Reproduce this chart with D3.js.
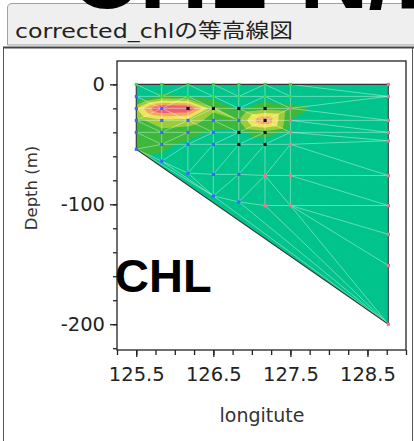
<!DOCTYPE html>
<html><head><meta charset="utf-8">
<script src="https://cdn.jsdelivr.net/npm/d3@7"></script>
<style>body{margin:0;background:#fff;overflow:hidden}svg{display:block}</style>
</head><body><svg id="c" width="414" height="441"></svg>
<script>
// ---- data ----
const stationLon = [
  125.5,125.5,125.5,125.5,125.5,125.5,
  125.83,125.83,125.83,125.83,125.83,125.83,125.83,
  126.17,126.17,126.17,126.17,126.17,126.17,126.17,
  126.5,126.5,126.5,126.5,126.5,126.5,126.5,126.5,
  126.83,126.83,126.83,126.83,126.83,126.83,126.83,126.83,
  127.17,127.17,127.17,127.17,127.17,127.17,127.17,127.17,
  127.5,127.5,127.5,127.5,127.5,127.5,127.5,127.5,
  128.77,128.77,128.77,128.77,128.77,128.77,128.77,128.77,128.77,128.77
];
const stationDepth = [
  0,-10,-20,-30,-40,-54,
  0,-10,-20,-30,-40,-50,-64,
  0,-10,-20,-30,-40,-50,-74,
  0,-10,-20,-30,-40,-50,-75,-93,
  0,-10,-20,-30,-40,-50,-75,-98,
  0,-10,-20,-30,-40,-50,-76,-101,
  0,-10,-20,-30,-40,-50,-76,-101,
  0,-10,-30,-40,-47,-76,-101,-125,-151,-200
];
const chlValue = [
  0.6,0.2,2.0,1.3,1.2,1.1,
  0.6,1.1,3.7,1.9,1.3,1.1,0.9,
  0.6,1.0,3.6,1.8,1.2,0.9,0.5,
  0.6,0.8,1.6,1.3,0.9,0.7,0.5,0.5,
  0.6,0.8,0.9,1.5,0.9,0.6,0.5,0.5,
  0.6,0.8,1.3,3.1,1.3,0.7,0.5,0.5,
  0.6,0.8,1.1,1.0,0.8,0.6,0.5,0.5,
  0.5,0.5,0.5,0.5,0.5,0.5,0.5,0.5,0.5,0.5
];
const stationGroup = [
  "g","b","b","b","b","b",
  "g","g","b","b","b","b","b",
  "g","g","k","b","b","b","b",
  "g","g","k","b","b","b","b","b",
  "g","g","k","b","k","k","b","b",
  "g","g","k","k","k","k","p","p",
  "g","g","p","p","p","p","p","p",
  "p","p","p","p","p","p","p","p","p","p"
];
const bandThresholds = [0.3, 1.0, 1.5, 2.0, 2.5, 3.0];
const bandColors = ["#00c48c","#3db83c","#9ccc3c","#eee45c","#f3a862","#ee5f72"];
const lowColor = "#22d5cf";
const groupColors = {g:"#33e033", b:"#3a66ff", k:"#111111", p:"#ff6f8c"};
const xMajorTicks = [125.5,126.5,127.5,128.5];
const xMinorTicks = d3.range(125.25, 129.001, 0.25);
const yMajorTicks = [-200,-100,0];
const yMinorTicks = d3.range(-220, 1, 20);

// ---- layout ----
const svg = d3.select("#c");
const frame = {l:117, t:61, r:406, b:350};
const x = d3.scaleLinear().domain([125.25, 129.0]).range([frame.l, frame.r]);
const y = d3.scaleLinear().domain([-221.5, 19.5]).range([frame.b, frame.t]);

// tab
svg.append("path")
  .attr("d","M7.5,45 L7.5,8 Q7.5,3.5 12,3.5 L416,3.5 L416,45 Z")
  .attr("fill","#efefef").attr("stroke","#a0a0a0").attr("stroke-width",1);
svg.append("text").attr("x",15).attr("y",38)
  .attr("font-family","DejaVu Sans, 'Noto Sans CJK JP', sans-serif")
  .attr("font-size",20).attr("fill","#222")
  .attr("textLength",278).attr("lengthAdjust","spacingAndGlyphs")
  .text("corrected_chlの等高線図");

// big cropped header text (drawn over the tab)
svg.append("text").attr("x",70).attr("y",8)
  .attr("font-family","Liberation Sans, Arial, sans-serif").attr("font-weight","bold")
  .attr("font-size",96).attr("fill","#000").text("CHL-N/P");

// panel
svg.append("rect").attr("x",3.5).attr("y",47.5).attr("width",409).attr("height",420)
  .attr("fill","#fff").attr("stroke","#555").attr("stroke-width",1);
svg.append("line").attr("x1",3).attr("x2",414).attr("y1",47.5).attr("y2",47.5)
  .attr("stroke","#444").attr("stroke-width",2);

// ---- contour field ----
const pts = stationLon.map((l,i)=>[x(l), y(stationDepth[i])]);
const del = d3.Delaunay.from(pts);
const gx0 = Math.floor(d3.min(pts,p=>p[0]))-2, gy0 = Math.floor(d3.min(pts,p=>p[1]))-2;
const gw = Math.ceil(d3.max(pts,p=>p[0]))-gx0+3, gh = Math.ceil(d3.max(pts,p=>p[1]))-gy0+3;
const grid = new Float64Array(gw*gh).fill(0.6);
const T = del.triangles;
for (let t=0;t<T.length;t+=3){
  const A=pts[T[t]],B=pts[T[t+1]],C=pts[T[t+2]];
  const va=chlValue[T[t]],vb=chlValue[T[t+1]],vc=chlValue[T[t+2]];
  const det=(B[1]-C[1])*(A[0]-C[0])+(C[0]-B[0])*(A[1]-C[1]);
  if (Math.abs(det)<1e-9) continue;
  const minX=Math.max(0,Math.floor(Math.min(A[0],B[0],C[0])-gx0-1)), maxX=Math.min(gw-1,Math.ceil(Math.max(A[0],B[0],C[0])-gx0+1));
  const minY=Math.max(0,Math.floor(Math.min(A[1],B[1],C[1])-gy0-1)), maxY=Math.min(gh-1,Math.ceil(Math.max(A[1],B[1],C[1])-gy0+1));
  for (let j=minY;j<=maxY;j++) for (let i=minX;i<=maxX;i++){
    const px=gx0+i+0.5, py=gy0+j+0.5;
    const wa=((B[1]-C[1])*(px-C[0])+(C[0]-B[0])*(py-C[1]))/det;
    const wb=((C[1]-A[1])*(px-C[0])+(A[0]-C[0])*(py-C[1]))/det;
    const wc=1-wa-wb;
    if (wa>=-1e-6 && wb>=-1e-6 && wc>=-1e-6) grid[j*gw+i]=wa*va+wb*vb+wc*vc;
  }
}
const hull = del.hullPolygon();
svg.append("clipPath").attr("id","hullclip").append("path").attr("d","M"+hull.join("L")+"Z");
const field = svg.append("g").attr("clip-path","url(#hullclip)");
field.append("path").attr("d","M"+hull.join("L")+"Z").attr("fill",lowColor);
const contours = d3.contours().size([gw,gh]).thresholds(bandThresholds)(Array.from(grid));
const cg = field.append("g").attr("transform",`translate(${gx0},${gy0})`);
cg.selectAll("path").data(contours).join("path")
  .attr("d", d3.geoPath())
  .attr("fill",(d,i)=>bandColors[i]);
// mesh
field.append("path").attr("d",del.render()).attr("fill","none")
  .attr("stroke","rgba(235,255,240,0.42)").attr("stroke-width",1);
// hull outline
svg.append("path").attr("d","M"+hull.join("L")+"Z").attr("fill","none")
  .attr("stroke","#333").attr("stroke-width",1.1);
// stations
svg.append("g").selectAll("rect").data(pts).join("rect")
  .attr("x",d=>d[0]-1.5).attr("y",d=>d[1]-1.5).attr("width",3.2).attr("height",3.2)
  .attr("fill",(d,i)=>groupColors[stationGroup[i]]);

// ---- frame & axes ----
svg.append("rect").attr("x",frame.l).attr("y",frame.t).attr("width",frame.r-frame.l).attr("height",frame.b-frame.t)
  .attr("fill","none").attr("stroke","#222").attr("stroke-width",1.3);
const fontAx = "DejaVu Sans, Verdana, sans-serif";
function styleAxis(g){ g.select(".domain").remove(); g.selectAll("line").attr("stroke","#222").attr("stroke-width",1.3);
  g.selectAll("text").attr("font-family",fontAx).attr("font-size",19.5).attr("fill","#222"); }
svg.append("g").attr("transform",`translate(${frame.l},0)`)
  .call(d3.axisLeft(y).tickValues(yMinorTicks).tickSize(4).tickFormat("")).call(styleAxis);
svg.append("g").attr("transform",`translate(${frame.l},0)`)
  .call(d3.axisLeft(y).tickValues(yMajorTicks).tickSize(7).tickPadding(5).tickFormat(d=>String(d))).call(styleAxis);
svg.append("g").attr("transform",`translate(0,${frame.b})`)
  .call(d3.axisBottom(x).tickValues(xMinorTicks).tickSize(5).tickFormat("")).call(styleAxis);
svg.append("g").attr("transform",`translate(0,${frame.b})`)
  .call(d3.axisBottom(x).tickValues(xMajorTicks).tickSize(7).tickPadding(10).tickFormat(d3.format(".1f"))).call(styleAxis);

svg.append("text").attr("transform","translate(37,188) rotate(-90)").attr("text-anchor","middle")
  .attr("font-family",fontAx).attr("font-size",16.5).attr("fill","#333").text("Depth (m)");
svg.append("text").attr("x",262).attr("y",422).attr("text-anchor","middle")
  .attr("font-family",fontAx).attr("font-size",19).attr("fill","#333").text("longitute");

// overlay label
svg.append("text").attr("x",115).attr("y",292)
  .attr("font-family","Liberation Sans, Arial, sans-serif").attr("font-weight","bold")
  .attr("font-size",47).attr("fill","#000").text("CHL");
</script></body></html>
